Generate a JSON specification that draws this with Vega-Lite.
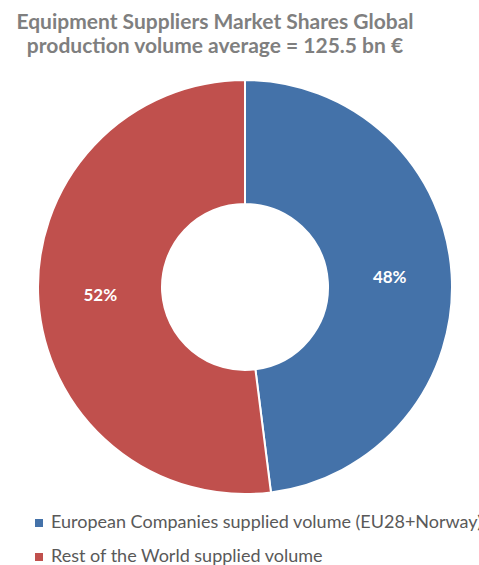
{
  "$schema": "https://vega.github.io/schema/vega-lite/v6.json",
  "width": 414,
  "height": 414,
  "autosize": {"type": "none"},
  "padding": {"left": 38, "top": 80, "right": 27, "bottom": 71},
  "background": "white",
  "title": {
    "text": ["Equipment Suppliers Market Shares Global", "production volume average = 125.5 bn €"],
    "font": "Lato",
    "fontSize": 21,
    "fontWeight": "bold",
    "color": "#7f7f7f",
    "anchor": "middle",
    "dx": -30,
    "offset": 19,
    "lineHeight": 24
  },
  "data": {
    "values": [
      {"category": "European Companies supplied volume (EU28+Norway)", "share": 48, "label": "48%", "ord": 1},
      {"category": "Rest of the World supplied volume", "share": 52, "label": "52%", "ord": 2}
    ]
  },
  "encoding": {
    "theta": {"field": "share", "type": "quantitative", "stack": true},
    "order": {"field": "ord", "type": "quantitative"}
  },
  "layer": [
    {
      "mark": {"type": "arc", "outerRadius": 207, "innerRadius": 83, "stroke": "white", "strokeWidth": 2},
      "encoding": {
        "color": {
          "field": "category",
          "type": "nominal",
          "sort": ["European Companies supplied volume (EU28+Norway)", "Rest of the World supplied volume"],
          "scale": {"range": ["#4472a9", "#c0504d"]},
          "legend": {
            "title": null,
            "orient": "none",
            "legendX": -8,
            "legendY": 434,
            "symbolType": "square",
            "symbolSize": 64,
            "symbolStrokeWidth": 0,
            "labelFont": "Lato",
            "labelFontSize": 18,
            "labelColor": "#595959",
            "labelLimit": 1000,
            "rowPadding": 16,
            "labelOffset": 3
          }
        }
      }
    },
    {
      "mark": {"type": "text", "radius": 145, "font": "Lato", "fontSize": 17, "fontWeight": "bold", "color": "white"},
      "encoding": {"text": {"field": "label"}}
    }
  ]
}
